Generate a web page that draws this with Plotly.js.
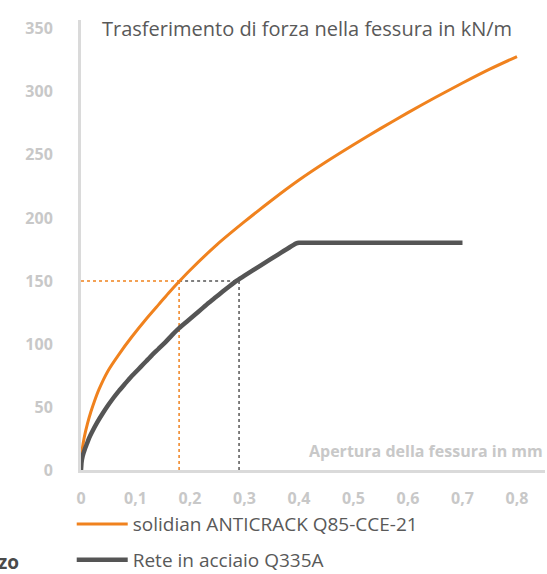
<!DOCTYPE html>
<html>
<head>
<meta charset="utf-8">
<script src="https://cdn.plot.ly/plotly-3.0.1.min.js"></script>
<style>html,body{margin:0;padding:0;background:#fff;}#chart{width:547px;height:574px;}</style>
</head>
<body>
<div id="chart"></div>
<script>
// Data
const seriesNames = ["solidian ANTICRACK Q85-CCE-21", "Rete in acciaio Q335A"];
const orangeX = [0, 0.002, 0.006, 0.012, 0.018, 0.025, 0.033, 0.05, 0.07, 0.093, 0.12, 0.142, 0.16, 0.18, 0.2, 0.25, 0.3, 0.35, 0.4, 0.45, 0.5, 0.55, 0.6, 0.65, 0.7, 0.75, 0.8];
const orangeY = [0, 15, 26, 37, 46, 55, 64, 79, 92, 105.5, 120, 131, 140, 149.5, 158.5, 179, 197, 214, 230, 244.5, 258, 271, 283.5, 295.5, 307, 318, 328];
const grayX = [0, 0.001, 0.003, 0.007, 0.011, 0.015, 0.02, 0.03, 0.04, 0.05, 0.06, 0.07, 0.08, 0.09, 0.1, 0.11, 0.12, 0.13, 0.142, 0.155, 0.167, 0.18, 0.195, 0.21, 0.222, 0.234, 0.247, 0.26, 0.273, 0.286, 0.3, 0.33, 0.36, 0.395, 0.4, 0.405, 0.7];
const grayY = [0, 6, 11, 16.5, 21, 25.5, 30, 38, 45, 51.5, 57.5, 63, 68, 73, 77.5, 82, 86.5, 91, 96, 101.5, 107, 112.5, 118, 123.5, 128, 132.5, 137, 141.6, 146, 150.2, 154.2, 162.4, 170.5, 179.8, 180.3, 180.3, 180.3];
const refLevel = 150;
const refOrangeX = 0.18;
const refGrayX = 0.29;
const xTickVals = [0, 0.1, 0.2, 0.3, 0.4, 0.5, 0.6, 0.7, 0.8];
const xTickText = ["0", "0,1", "0,2", "0,3", "0,4", "0,5", "0,6", "0,7", "0,8"];
const yTickVals = [0, 50, 100, 150, 200, 250, 300, 350];
const chartTitle = "Trasferimento di forza nella fessura in kN/m";
const xTitle = "Apertura della fessura in mm";

const ORANGE = "#f0821e";
const GRAY = "#555555";
const FONT = "Open Sans, sans-serif";

const traces = [
  {x: [0, refOrangeX], y: [refLevel, refLevel], mode: "lines", line: {color: ORANGE, width: 1.5, dash: "3px,3px"}, showlegend: false, hoverinfo: "skip"},
  {x: [refOrangeX, refOrangeX], y: [0, refLevel], mode: "lines", line: {color: ORANGE, width: 1.5, dash: "3px,3px"}, showlegend: false, hoverinfo: "skip"},
  {x: [refOrangeX, refGrayX], y: [refLevel, refLevel], mode: "lines", line: {color: GRAY, width: 1.5, dash: "3px,3px"}, showlegend: false, hoverinfo: "skip"},
  {x: [refGrayX, refGrayX], y: [0, refLevel], mode: "lines", line: {color: GRAY, width: 1.5, dash: "3px,3px"}, showlegend: false, hoverinfo: "skip"},
  {x: orangeX, y: orangeY, name: seriesNames[0], mode: "lines", line: {color: ORANGE, width: 3, shape: "spline", smoothing: 0.6}, legendgroup: "a"},
  {x: grayX, y: grayY, name: seriesNames[1], mode: "lines", line: {color: GRAY, width: 4.5, shape: "spline", smoothing: 0.5}, legendgroup: "b"}
];

const layout = {
  width: 547, height: 574,
  margin: {l: 81, r: 2, t: 20, b: 104},
  paper_bgcolor: "#fff", plot_bgcolor: "#fff",
  font: {family: FONT},
  showlegend: true,
  legend: {
    xref: "paper", x: -0.02, xanchor: "left",
    yref: "container", y: 0.12, yanchor: "top",
    font: {size: 19, color: "#595959", family: FONT},
    tracegroupgap: 8, itemwidth: 51, bgcolor: "rgba(0,0,0,0)"
  },
  xaxis: {
    range: [0, 0.8514], showgrid: false, zeroline: false,
    showline: true, linecolor: "#dadada", linewidth: 3,
    tickvals: xTickVals, ticktext: xTickText,
    ticks: "outside", ticklen: 12, tickcolor: "rgba(0,0,0,0)",
    tickfont: {size: 16, color: "#c8c8c8", family: FONT, weight: "bold"},
    fixedrange: true
  },
  yaxis: {
    range: [0, 357], showgrid: false, zeroline: false,
    showline: true, linecolor: "#dadada", linewidth: 3,
    tickvals: yTickVals,
    ticks: "outside", ticklen: 22, tickcolor: "rgba(0,0,0,0)",
    tickfont: {size: 16, color: "#c8c8c8", family: FONT, weight: "bold"},
    fixedrange: true
  },
  annotations: [
    {text: chartTitle, xref: "paper", yref: "paper", x: 0.041, y: 0.982, xanchor: "left", yanchor: "middle", showarrow: false,
     font: {size: 20, color: "#595959", family: FONT}},
    {text: "<b>" + xTitle + "</b>", xref: "paper", yref: "paper", x: 1.0, y: 0.042, xanchor: "right", yanchor: "middle", showarrow: false,
     font: {size: 16, color: "#c8c8c8", family: FONT}},
    {text: "<b>zo</b>", xref: "paper", yref: "paper", x: -0.13, y: -0.204, xanchor: "right", yanchor: "middle", showarrow: false,
     font: {size: 19, color: "#4a4a4a", family: FONT}}
  ]
};

Plotly.newPlot("chart", traces, layout, {displayModeBar: false, staticPlot: true});
</script>
</body>
</html>
